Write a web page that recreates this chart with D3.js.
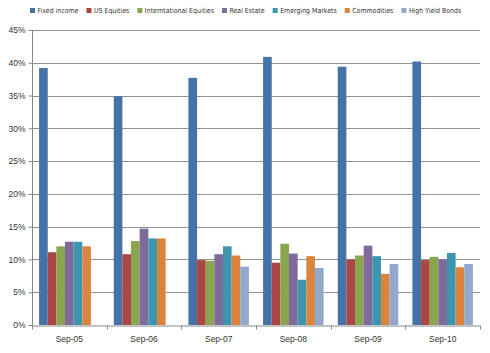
<!DOCTYPE html>
<html lang="en">
<head>
    <meta charset="UTF-8">
    <title>Asset class returns</title>
    <script src="https://cdn.jsdelivr.net/npm/d3@7"></script>
    <style>
        body { margin: 0; background: #fff; }
        text {
            font-family: 'Liberation Sans', Arial, sans-serif;
            font-size: 8.5px;
            fill: #333;
        }
        .legend text {
            font-family: 'DejaVu Sans Condensed', 'Liberation Sans Narrow', sans-serif;
        }
    </style>
</head>
<body>
<svg id="chart" width="490" height="353"></svg>
<script>
    const periods = ["Sep-05", "Sep-06", "Sep-07", "Sep-08", "Sep-09", "Sep-10"];
    const seriesNames = ["Fixed income", "US Equities", "Interntational Equities", "Real Estate",
                         "Emerging Markets", "Commodities", "High Yield Bonds"];
    const colors = ["#4572A7", "#AA4643", "#89A54E", "#80699B", "#3D96AE", "#DB843D", "#92A8CD"];

    // one array per series, values in percent (null = no bar)
    const fixedIncome   = [39.2, 34.9, 37.7, 40.9, 39.4, 40.2];
    const usEquities    = [11.1, 10.8, 9.9, 9.5, 10.0, 9.9];
    const intlEquities  = [12.0, 12.8, 9.8, 12.4, 10.6, 10.4];
    const realEstate    = [12.7, 14.7, 10.8, 10.9, 12.1, 10.0];
    const emerging      = [12.7, 13.2, 12.0, 6.9, 10.5, 11.0];
    const commodities   = [12.0, 13.2, 10.6, 10.5, 7.8, 8.8];
    const highYield     = [null, null, 8.9, 8.7, 9.3, 9.3];
    const allSeries = [fixedIncome, usEquities, intlEquities, realEstate, emerging, commodities, highYield];

    const yTicks = [0, 5, 10, 15, 20, 25, 30, 35, 40, 45];

    const svg = d3.select("#chart");
    const m = {left: 32, right: 10, top: 30, bottom: 28};
    const w = 490, h = 353;

    const x0 = d3.scaleBand().domain(periods).range([m.left, w - m.right]);
    const x1 = d3.scaleBand().domain(d3.range(seriesNames.length))
        .range([0, x0.bandwidth()]).paddingOuter(0.82);
    const y = d3.scaleLinear().domain([0, 45]).range([h - m.bottom, m.top]);

    // gridlines
    svg.append("g").selectAll("line")
        .data(yTicks.filter(t => t > 0)).join("line")
        .attr("x1", m.left).attr("x2", w - m.right)
        .attr("y1", d => Math.round(y(d)) + 0.5).attr("y2", d => Math.round(y(d)) + 0.5)
        .attr("stroke", "#939393").attr("stroke-width", 1);

    // bars
    const rows = periods.map((p, i) => allSeries.map((s, k) => ({p, k, v: s[i]})));
    svg.append("g").selectAll("g")
        .data(rows).join("g")
        .attr("transform", d => `translate(${x0(d[0].p)},0)`)
        .selectAll("rect")
        .data(d => d.filter(e => e.v != null)).join("rect")
        .attr("x", d => x1(d.k))
        .attr("width", x1.bandwidth())
        .attr("y", d => y(d.v))
        .attr("height", d => y(0) - y(d.v))
        .attr("fill", d => colors[d.k]);

    // y axis
    const yAxis = svg.append("g")
        .attr("transform", `translate(${m.left + 0.5},0)`)
        .call(d3.axisLeft(y).tickValues(yTicks).tickSize(4).tickPadding(3).tickFormat(d => d + "%"));
    yAxis.select(".domain").attr("stroke", "#868686").attr("d", `M0,${y(45)}V${y(0)}`);
    yAxis.selectAll(".tick line").attr("stroke", "#868686");
    yAxis.selectAll("text").attr("fill", "#333").style("font-size", "8.5px");

    // x axis
    const xAxis = svg.append("g")
        .attr("transform", `translate(0,${Math.round(y(0)) + 0.5})`)
        .call(d3.axisBottom(x0).tickSize(0).tickPadding(10));
    xAxis.select(".domain").attr("stroke", "#868686");
    xAxis.selectAll("text").attr("fill", "#333").style("font-size", "8.5px");
    // category boundary ticks
    xAxis.append("g").selectAll("line")
        .data(periods.map(p => x0(p)).concat([w - m.right])).join("line")
        .attr("x1", d => Math.round(d) + 0.5).attr("x2", d => Math.round(d) + 0.5)
        .attr("y1", 0).attr("y2", 4).attr("stroke", "#868686");

    // legend: lay out at a trial size, then shrink the font so it spans 30..462
    const legend = svg.append("g").attr("class", "legend").attr("transform", "translate(30,13)");
    const items = legend.selectAll("g").data(seriesNames).join("g");
    items.append("rect").attr("x", 0).attr("y", -5).attr("width", 5).attr("height", 5)
        .attr("fill", (d, i) => colors[i]);
    const labels = items.append("text").attr("x", 7.5).attr("y", 0).text(d => d);

    function layout(fs) {
        labels.style("font-size", fs + "px");
        let lx = 0;
        items.each(function() {
            d3.select(this).attr("transform", `translate(${lx},0)`);
            lx += 7.5 + d3.select(this).select("text").node().getComputedTextLength() + 8;
        });
        return lx - 8;
    }
    const trial = 8;
    const total = layout(trial);
    const fixedPart = seriesNames.length * 7.5 + (seriesNames.length - 1) * 8;
    const fitted = Math.min(8.5, trial * (432 - fixedPart) / (total - fixedPart));
    layout(fitted);
</script>
</body>
</html>
